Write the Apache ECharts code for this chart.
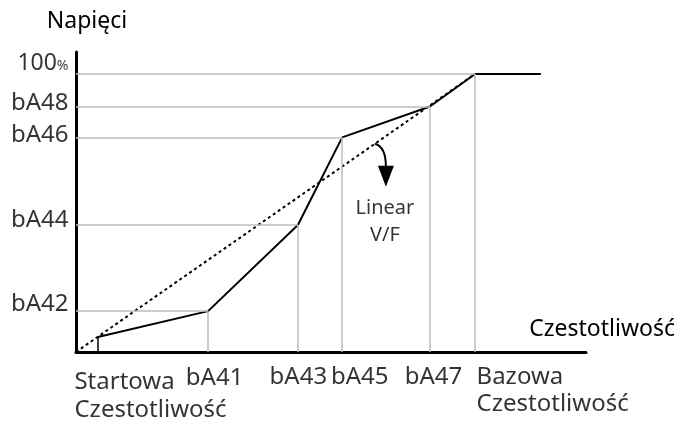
<!DOCTYPE html>
<html>
<head>
<meta charset="utf-8">
<script src="https://cdn.jsdelivr.net/npm/echarts@6/dist/echarts.min.js"></script>
<style>
  html, body { margin: 0; padding: 0; background: #fff; }
  #chart { width: 679px; height: 424px; }
</style>
</head>
<body>
<div id="chart"></div>
<script>
// frequency points (base frequency = 100)
const freqLabels = ['Startowa\nCzestotliwość', 'bA41', 'bA43', 'bA45', 'bA47', 'Bazowa\nCzestotliwość']
const freqValues = [5.5, 33.1, 55.6, 66.7, 88.7, 100]
// voltage points (% of rated)
const voltLabels = ['', 'bA42', 'bA44', 'bA46', 'bA48', '100%']
const voltValues = [5.4, 14.7, 45.7, 77.2, 88.3, 100]
const flatEndFreq = 116.5
const linearVF = [[0, 0], [100, 100]]
const xMax = 127.8
const yMax = 107.9

// annotation anchors (data coords)
const linearTextAt = [77.4, 46.9]
const arrowFrom = [74.9, 74.9]

// tick label layout (style only)
const xLabelLayout = [
  { align: 'left', dx: -23, dy: 17, lineHeight: 28 },
  { align: 'center', dx: 7, dy: 13, lineHeight: 28 },
  { align: 'center', dx: 1, dy: 12, lineHeight: 28 },
  { align: 'center', dx: 18, dy: 12, lineHeight: 28 },
  { align: 'center', dx: 4, dy: 12, lineHeight: 28 },
  { align: 'left', dx: 2, dy: 12, lineHeight: 27 },
]
const yLabelShift = [0, -6, -4, -2, -3, -10]

const FONT = 'Noto Sans'
const GRAY = '#bdbdbd'
const INK = '#000'

const curve = freqValues.map((x, i) => [x, voltValues[i]]).concat([[flatEndFreq, 100]])

// drop lines from each point to the axes
const dropLines = []
freqValues.forEach((x, i) => {
  const y = voltValues[i]
  if (i === 0) {
    dropLines.push([{ coord: [x, y], lineStyle: { color: '#000', width: 1.5 } }, { coord: [x, 0] }])
    return
  }
  dropLines.push([{ coord: [0, y] }, { coord: [x, y] }])
  dropLines.push([{ coord: [x, y] }, { coord: [x, 0] }])
})

const chart = echarts.init(document.getElementById('chart'))

chart.setOption({
  animation: false,
  textStyle: { fontFamily: FONT },
  grid: { left: 76, right: 93, top: 52, bottom: 72 },
  xAxis: {
    type: 'value',
    min: 0,
    max: xMax,
    name: 'Czestotliwość',
    nameLocation: 'end',
    nameGap: 89,
    nameTextStyle: {
      fontFamily: FONT, fontSize: 23, color: INK, align: 'right',
      verticalAlign: 'bottom', lineHeight: 28, padding: [0, 0, 9, 0],
    },
    axisLine: { show: true, lineStyle: { color: '#000', width: 3 } },
    axisTick: { show: false },
    axisLabel: { show: false },
    splitLine: { show: false },
  },
  yAxis: {
    type: 'value',
    min: 0,
    max: yMax,
    name: 'Napięci',
    nameLocation: 'end',
    nameGap: 17,
    nameTextStyle: {
      fontFamily: FONT, fontSize: 23, color: INK, align: 'center',
      lineHeight: 28, padding: [0, 0, 0, 22],
    },
    axisLine: { show: true, lineStyle: { color: '#000', width: 3 } },
    axisTick: { show: false },
    axisLabel: { show: false },
    splitLine: { show: false },
  },
  series: [
    {
      name: 'drop',
      type: 'line',
      data: [],
      z: 1,
      markLine: {
        silent: true,
        symbol: 'none',
        label: { show: false },
        lineStyle: { color: GRAY, width: 1.5, type: 'solid' },
        data: dropLines,
      },
    },
    {
      name: 'Linear V/F',
      type: 'line',
      data: linearVF,
      z: 3,
      symbol: 'none',
      lineStyle: { color: '#000', width: 2, type: [3, 3] },
    },
    {
      name: 'V/F',
      type: 'line',
      data: curve,
      z: 4,
      symbol: 'none',
      lineStyle: { color: '#000', width: 2 },
    },
    {
      name: 'xLabels',
      type: 'scatter',
      silent: true,
      symbolSize: 1,
      itemStyle: { color: 'transparent' },
      data: freqValues.map((x, i) => ({
        value: [x, 0],
        label: {
          show: true,
          formatter: freqLabels[i],
          position: [xLabelLayout[i].dx, xLabelLayout[i].dy],
          align: xLabelLayout[i].align,
          verticalAlign: 'top',
          lineHeight: xLabelLayout[i].lineHeight,
          fontFamily: FONT,
          fontSize: 24,
          color: INK,
        },
      })),
    },
    {
      name: 'yLabels',
      type: 'scatter',
      silent: true,
      symbolSize: 1,
      itemStyle: { color: 'transparent' },
      data: voltValues.map((y, i) => ({ value: [0, y], i })).filter(d => voltLabels[d.i]).map(d => ({
        value: d.value,
        label: {
          show: true,
          formatter: voltLabels[d.i] === '100%' ? '{n|100}{p|%}' : voltLabels[d.i],
          position: [-7, yLabelShift[d.i]],
          align: 'right',
          verticalAlign: 'middle',
          fontFamily: FONT,
          fontSize: 24,
          color: INK,
          rich: {
            n: { fontFamily: FONT, fontSize: 23, color: INK, verticalAlign: 'bottom' },
            p: { fontFamily: FONT, fontSize: 14, color: INK, verticalAlign: 'bottom', padding: [0, 0, 2, 0] },
          },
        },
      })),
    },
    {
      name: 'note',
      type: 'scatter',
      silent: true,
      symbolSize: 1,
      itemStyle: { color: 'transparent' },
      data: [{
        value: linearTextAt,
        label: {
          show: true,
          formatter: 'Linear\nV/F',
          position: 'inside',
          align: 'center',
          verticalAlign: 'middle',
          lineHeight: 27,
          fontFamily: FONT,
          fontSize: 20,
          color: INK,
        },
      }],
    },
  ],
})

// curved arrow from the linear line down to the note
const p = chart.convertToPixel({ gridIndex: 0 }, arrowFrom)
chart.setOption({
  graphic: [
    {
      type: 'bezierCurve',
      silent: true,
      shape: { x1: p[0], y1: p[1], cpx1: p[0] + 11, cpy1: p[1] + 3, x2: p[0] + 11, y2: p[1] + 23 },
      style: { stroke: '#000', lineWidth: 2, fill: null },
    },
    {
      type: 'polygon',
      silent: true,
      shape: { points: [[p[0] + 3, p[1] + 22], [p[0] + 19, p[1] + 22], [p[0] + 11, p[1] + 43]] },
      style: { fill: '#000' },
    },
  ],
})
</script>
</body>
</html>
